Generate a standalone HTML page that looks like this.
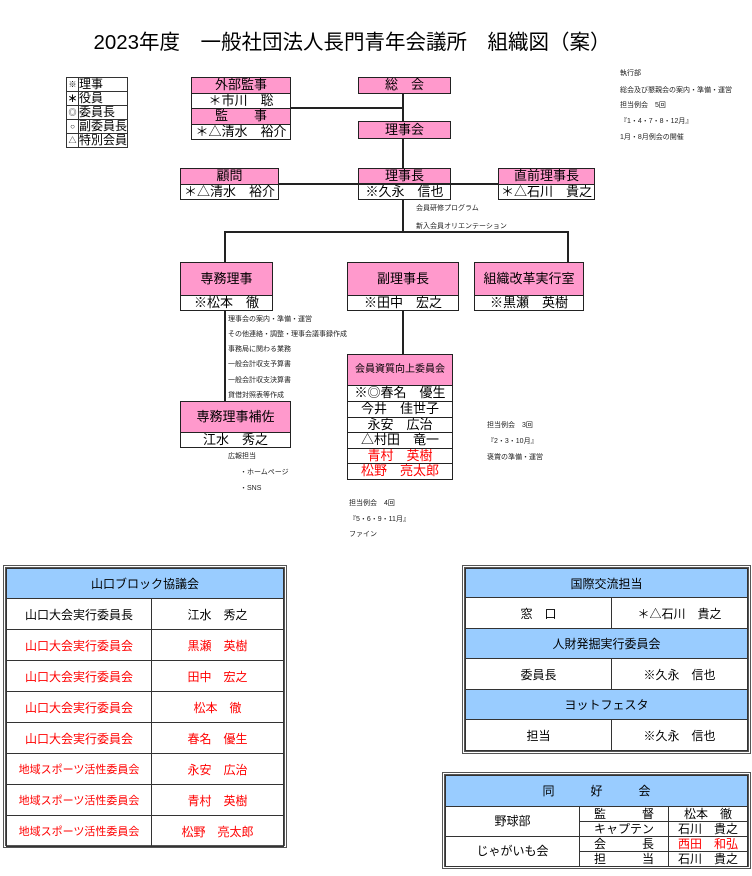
<!DOCTYPE html>
<html><head><meta charset="utf-8"><style>
body{margin:0;width:752px;height:876px;background:#fff;position:relative;font-family:"Liberation Sans","Noto Sans CJK JP",sans-serif;color:#000;overflow:hidden}
div{position:absolute;box-sizing:border-box}
.b{border:1.5px solid #222;text-align:center;white-space:nowrap;overflow:hidden}
.p{background:#ff99cc}
.w{background:#fff}
.l{background:#222}
.s{font-size:7px;white-space:nowrap;color:#222}
.r{color:#f00}
table{border-collapse:collapse;position:absolute}
td{border:1.5px solid #333;text-align:center;white-space:nowrap;padding:0}
.h{background:#99ccff}
</style></head><body>
<div style="left:0;width:704px;top:25px;text-align:center;font-size:20.5px">2023年度　一般社団法人長門青年会議所　組織図（案）</div>

<!-- legend -->
<table style="left:66px;top:77px;font-size:12px;line-height:13px">
<tr><td style="width:11px;font-size:8px">※</td><td style="text-align:left;width:45px">理事</td></tr>
<tr><td>∗</td><td style="text-align:left">役員</td></tr>
<tr><td style="font-size:8px">◎</td><td style="text-align:left">委員長</td></tr>
<tr><td style="font-size:8px">○</td><td style="text-align:left">副委員長</td></tr>
<tr><td style="font-size:8px">△</td><td style="text-align:left">特別会員</td></tr>
</table>

<!-- lines -->
<div class="l" style="left:290px;top:107px;width:114px;height:2px"></div>
<div class="l" style="left:402px;top:93px;width:2px;height:28px"></div>
<div class="l" style="left:402px;top:138px;width:2px;height:30px"></div>
<div class="l" style="left:402px;top:199px;width:2px;height:34px"></div>
<div class="l" style="left:224px;top:231px;width:345px;height:2px"></div>
<div class="l" style="left:224px;top:231px;width:2px;height:32px"></div>
<div class="l" style="left:567px;top:231px;width:2px;height:32px"></div>
<div class="l" style="left:224px;top:310px;width:2px;height:92px"></div>
<div class="l" style="left:402px;top:310px;width:2px;height:45px"></div>

<!-- top boxes -->
<div class="b p" style="left:191px;top:77px;width:100px;height:17px;font-size:13px;line-height:14px">外部監事</div>
<div class="b w" style="left:191px;top:93px;width:100px;height:16px;font-size:13px;line-height:13px">＊市川　聡</div>
<div class="b p" style="left:191px;top:108px;width:100px;height:17px;font-size:13px;line-height:14px">監　　事</div>
<div class="b w" style="left:191px;top:124px;width:100px;height:16px;font-size:13px;line-height:13px">＊△清水　裕介</div>

<div class="b p" style="left:358px;top:77px;width:93px;height:17px;font-size:13px;line-height:14px">総　会</div>
<div class="b p" style="left:358px;top:121px;width:93px;height:18px;font-size:13px;line-height:15px">理事会</div>

<div class="b p" style="left:180px;top:168px;width:99px;height:17px;font-size:13px;line-height:14px">顧問</div>
<div class="b w" style="left:180px;top:184px;width:99px;height:16px;font-size:13px;line-height:13px">＊△清水　裕介</div>
<div class="b p" style="left:358px;top:168px;width:93px;height:17px;font-size:13px;line-height:14px">理事長</div>
<div class="b w" style="left:358px;top:184px;width:93px;height:16px;font-size:13px;line-height:13px">※久永　信也</div>
<div class="b p" style="left:498px;top:168px;width:97px;height:17px;font-size:13px;line-height:14px">直前理事長</div>
<div class="b w" style="left:498px;top:184px;width:97px;height:16px;font-size:13px;line-height:13px">＊△石川　貴之</div>
<div class="l" style="left:279px;top:183px;width:219px;height:2px"></div>

<!-- second tier -->
<div class="b p" style="left:180px;top:262px;width:93px;height:34px;font-size:13px;line-height:31px">専務理事</div>
<div class="b w" style="left:180px;top:295px;width:93px;height:16px;font-size:13px;line-height:13px">※松本　徹</div>
<div class="b p" style="left:347px;top:262px;width:112px;height:34px;font-size:13px;line-height:31px">副理事長</div>
<div class="b w" style="left:347px;top:295px;width:112px;height:16px;font-size:13px;line-height:13px">※田中　宏之</div>
<div class="b p" style="left:474px;top:262px;width:110px;height:34px;font-size:13px;line-height:31px">組織改革実行室</div>
<div class="b w" style="left:474px;top:295px;width:110px;height:16px;font-size:13px;line-height:13px">※黒瀬　英樹</div>

<div class="b p" style="left:180px;top:401px;width:111px;height:32px;font-size:13px;line-height:29px">専務理事補佐</div>
<div class="b w" style="left:180px;top:432px;width:111px;height:16px;font-size:13px;line-height:13px">江水　秀之</div>

<div class="b p" style="left:347px;top:354px;width:106px;height:32px;font-size:10px;line-height:29px">会員資質向上委員会</div>
<div class="b w" style="left:347px;top:385px;width:106px;height:17px;font-size:13px;line-height:14px">※◎春名　優生</div>
<div class="b w" style="left:347px;top:401px;width:106px;height:17px;font-size:13px;line-height:14px">今井　佳世子</div>
<div class="b w" style="left:347px;top:417px;width:106px;height:16px;font-size:13px;line-height:13px">永安　広治</div>
<div class="b w" style="left:347px;top:432px;width:106px;height:17px;font-size:13px;line-height:14px">△村田　竜一</div>
<div class="b w r" style="left:347px;top:448px;width:106px;height:16px;font-size:13px;line-height:13px">青村　英樹</div>
<div class="b w r" style="left:347px;top:463px;width:106px;height:17px;font-size:13px;line-height:14px">松野　亮太郎</div>

<!-- small notes -->
<div class="s" style="left:620px;top:68px">執行部</div>
<div class="s" style="left:620px;top:85px">総会及び懇親会の案内・準備・運営</div>
<div class="s" style="left:620px;top:100px">担当例会　5回</div>
<div class="s" style="left:620px;top:116px">『1・4・7・8・12月』</div>
<div class="s" style="left:620px;top:132px">1月・8月例会の開催</div>
<div class="s" style="left:416px;top:203px">会員研修プログラム</div>
<div class="s" style="left:416px;top:221px">新入会員オリエンテーション</div>
<div class="s" style="left:228px;top:314px">理事会の案内・準備・運営</div>
<div class="s" style="left:228px;top:329px">その他連絡・調整・理事会議事録作成</div>
<div class="s" style="left:228px;top:344px">事務局に関わる業務</div>
<div class="s" style="left:228px;top:359px">一般会計収支予算書</div>
<div class="s" style="left:228px;top:375px">一般会計収支決算書</div>
<div class="s" style="left:228px;top:390px">貸借対照表等作成</div>
<div class="s" style="left:228px;top:451px">広報担当</div>
<div class="s" style="left:240px;top:467px">・ホームページ</div>
<div class="s" style="left:240px;top:483px">・SNS</div>
<div class="s" style="left:487px;top:420px">担当例会　3回</div>
<div class="s" style="left:487px;top:436px">『2・3・10月』</div>
<div class="s" style="left:487px;top:452px">褒賞の準備・運営</div>
<div class="s" style="left:349px;top:498px">担当例会　4回</div>
<div class="s" style="left:349px;top:514px">『5・6・9・11月』</div>
<div class="s" style="left:349px;top:529px">ファイン</div>

<!-- bottom left -->
<div style="left:3px;top:565px;width:284px;height:283px;border:3px double #555"></div>
<table style="left:6px;top:568px;width:278px;font-size:12px">
<tr style="height:30px"><td colspan="2" class="h">山口ブロック協議会</td></tr>
<tr style="height:31px"><td style="width:144px">山口大会実行委員長</td><td>江水　秀之</td></tr>
<tr style="height:31px" class="r"><td>山口大会実行委員会</td><td>黒瀬　英樹</td></tr>
<tr style="height:31px" class="r"><td>山口大会実行委員会</td><td>田中　宏之</td></tr>
<tr style="height:31px" class="r"><td>山口大会実行委員会</td><td>松本　徹</td></tr>
<tr style="height:31px" class="r"><td>山口大会実行委員会</td><td>春名　優生</td></tr>
<tr style="height:31px" class="r"><td style="font-size:11px">地域スポーツ活性委員会</td><td>永安　広治</td></tr>
<tr style="height:31px" class="r"><td style="font-size:11px">地域スポーツ活性委員会</td><td>青村　英樹</td></tr>
<tr style="height:31px" class="r"><td style="font-size:11px">地域スポーツ活性委員会</td><td>松野　亮太郎</td></tr>
</table>

<!-- bottom right -->
<div style="left:462px;top:565px;width:289px;height:189px;border:3px double #555"></div>
<table style="left:465px;top:568px;width:283px;font-size:12px">
<tr style="height:29px"><td colspan="2" class="h">国際交流担当</td></tr>
<tr style="height:31px"><td style="width:145px">窓　口</td><td>＊△石川　貴之</td></tr>
<tr style="height:30px"><td colspan="2" class="h">人財発掘実行委員会</td></tr>
<tr style="height:31px"><td>委員長</td><td>※久永　信也</td></tr>
<tr style="height:30px"><td colspan="2" class="h">ヨットフェスタ</td></tr>
<tr style="height:31px"><td>担当</td><td>※久永　信也</td></tr>
</table>

<div style="left:442px;top:772px;width:309px;height:97px;border:3px double #555"></div>
<table style="left:445px;top:775px;width:303px;font-size:12px;line-height:13px">
<tr style="height:31px"><td colspan="3" class="h">同　　　好　　　会</td></tr>
<tr style="height:15px"><td rowspan="2" style="width:133px">野球部</td><td style="width:88px">監　　　督</td><td>松本　徹</td></tr>
<tr style="height:15px"><td>キャプテン</td><td>石川　貴之</td></tr>
<tr style="height:15px"><td rowspan="2">じゃがいも会</td><td>会　　　長</td><td class="r">西田　和弘</td></tr>
<tr style="height:15px"><td>担　　　当</td><td>石川　貴之</td></tr>
</table>
</body></html>
